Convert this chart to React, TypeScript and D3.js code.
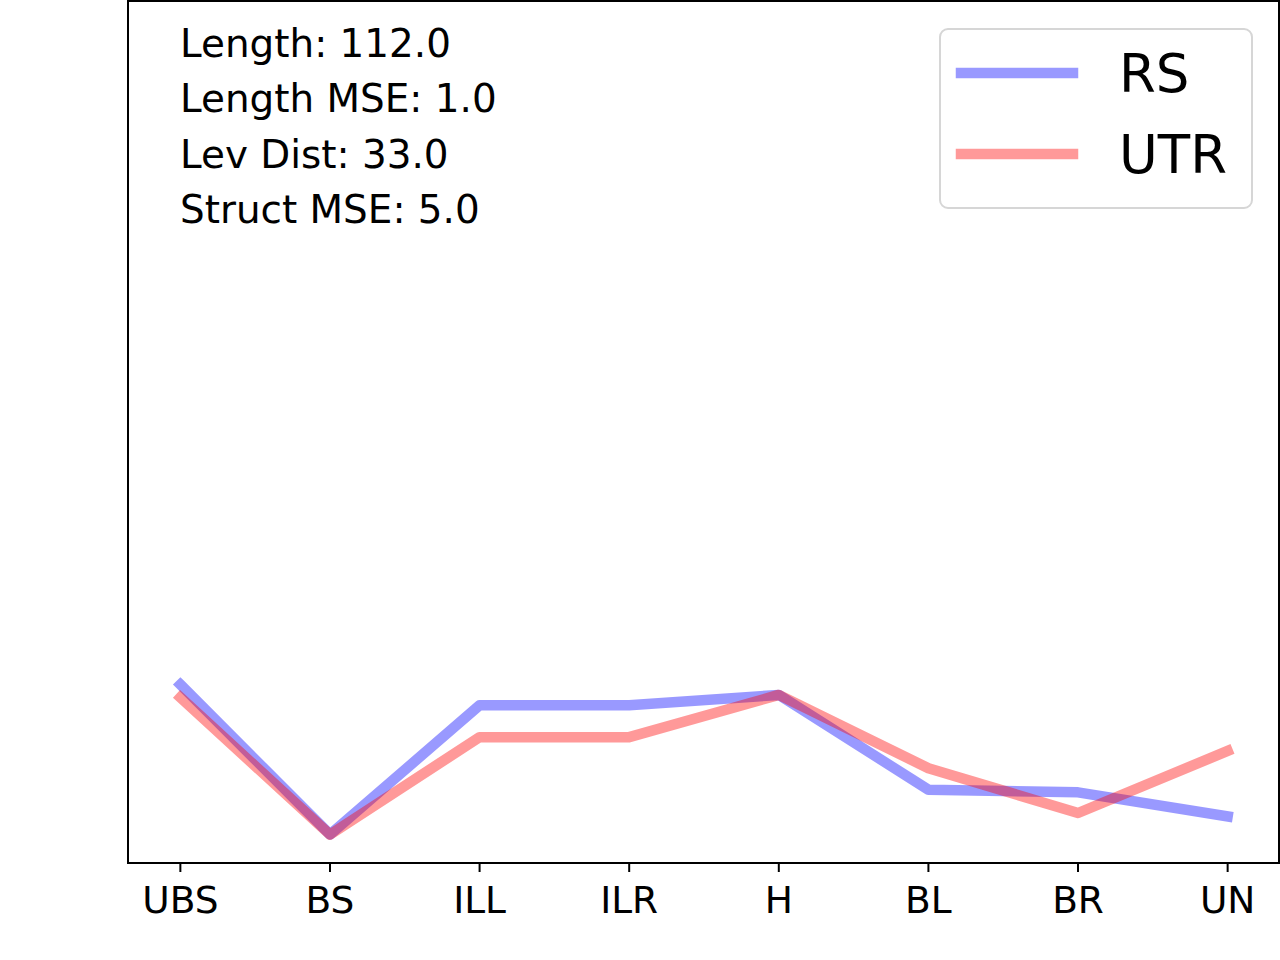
import { useEffect, useRef } from "react";
import * as d3 from "d3";

const categories = ["UBS", "BS", "ILL", "ILR", "H", "BL", "BR", "UN"];
const rsValues = [0.207, 0.033, 0.183, 0.183, 0.195, 0.085, 0.082, 0.054];
const utrValues = [0.192, 0.033, 0.146, 0.146, 0.195, 0.110, 0.058, 0.130];
const seriesNames = ["RS", "UTR"];
const seriesColors = ["blue", "red"];
const statLines = ["Length: 112.0", "Length MSE: 1.0", "Lev Dist: 33.0", "Struct MSE: 5.0"];

const width = 1280;
const height = 960;
const font = "DejaVu Sans, sans-serif";

export default function App() {
  const svgRef = useRef<SVGSVGElement | null>(null);

  useEffect(() => {
    if (!svgRef.current) return;
    document.body.style.margin = "0";
    const svg = d3.select(svgRef.current);
    svg.selectAll("*").remove();

    const left = 128, right = 1280, top = 1, bottom = 863;

    const x = d3.scalePoint<string>().domain(categories).range([left, right]).padding(0.35);
    const y = d3.scaleLinear().domain([0, 1]).range([bottom, top]);

    svg.append("rect").attr("width", width).attr("height", height).attr("fill", "#fff");

    const line = d3.line<number>()
      .x((_, i) => x(categories[i]) as number)
      .y(d => y(d));

    [rsValues, utrValues].forEach((vals, i) => {
      svg.append("path")
        .attr("d", line(vals))
        .attr("fill", "none")
        .attr("stroke", seriesColors[i])
        .attr("stroke-opacity", 0.4)
        .attr("stroke-width", 10.5)
        .attr("stroke-linecap", "square")
        .attr("stroke-linejoin", "round");
    });

    // frame
    svg.append("rect")
      .attr("x", left).attr("y", top)
      .attr("width", right - 1 - left).attr("height", bottom - top)
      .attr("fill", "none").attr("stroke", "#000").attr("stroke-width", 2);

    // x axis ticks + labels
    const xAxis = svg.append("g");
    categories.forEach(c => {
      const cx = x(c) as number;
      xAxis.append("line")
        .attr("x1", cx).attr("x2", cx)
        .attr("y1", bottom).attr("y2", bottom + 9)
        .attr("stroke", "#000").attr("stroke-width", 2);
      xAxis.append("text")
        .attr("x", cx).attr("y", bottom + 50)
        .attr("text-anchor", "middle")
        .style("font-family", font).style("font-size", "37.5px")
        .text(c);
    });

    // stats text
    statLines.forEach((t, i) => {
      svg.append("text")
        .attr("x", 180).attr("y", 57 + i * 55.3)
        .style("font-family", font).style("font-size", "38.9px")
        .text(t);
    });

    // legend
    const lg = svg.append("g");
    lg.append("rect")
      .attr("x", 940).attr("y", 29)
      .attr("width", 312).attr("height", 179)
      .attr("rx", 8)
      .attr("fill", "#fff").attr("fill-opacity", 0.8)
      .attr("stroke", "#d6d6d6").attr("stroke-width", 2);
    seriesNames.forEach((n, i) => {
      const ly = 73 + i * 81;
      lg.append("line")
        .attr("x1", 961).attr("x2", 1073)
        .attr("y1", ly).attr("y2", ly)
        .attr("stroke", seriesColors[i]).attr("stroke-opacity", 0.4)
        .attr("stroke-width", 10.5).attr("stroke-linecap", "square");
      lg.append("text")
        .attr("x", 1119).attr("y", ly + 19)
        .style("font-family", font).style("font-size", "53px")
        .text(n);
    });
  }, []);

  return <svg ref={svgRef} width={width} height={height} style={{ display: "block" }} />;
}
